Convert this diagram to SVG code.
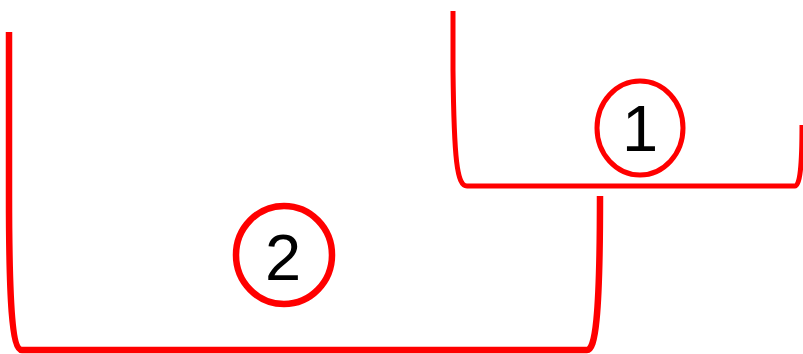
<svg xmlns="http://www.w3.org/2000/svg" width="803" height="354" viewBox="0 0 803 354">
  <style>
    .br { fill: none; stroke: #ff0000; stroke-linecap: butt; stroke-linejoin: round; }
    .ring { fill: #ffffff; stroke: #ff0000; }
    .num { font-family: "Liberation Sans", Arial, sans-serif; font-size: 65px; fill: #000000; text-anchor: middle; }
  </style>
  <rect width="803" height="354" fill="#ffffff"/>
  <g id="connectors">
    <path id="bracket-1" class="br" stroke-width="5" d="M453,11 L453,70 C454,160 457,186 467,186 L795,186 C800,186 802,165 802,125"/>
    <path id="bracket-2" class="br" stroke-width="6.5" d="M9,32 L9,195 C9,300 12,350 22,350 L587,350 C595,350 600,320 600,196"/>
  </g>
  <g id="node-1">
    <ellipse class="ring" cx="640" cy="128" rx="43" ry="47" stroke-width="5"/>
    <text class="num" x="640" y="151">1</text>
  </g>
  <g id="node-2">
    <ellipse class="ring" cx="284" cy="255" rx="48" ry="49" stroke-width="6.5"/>
    <text class="num" x="283" y="280">2</text>
  </g>
</svg>
